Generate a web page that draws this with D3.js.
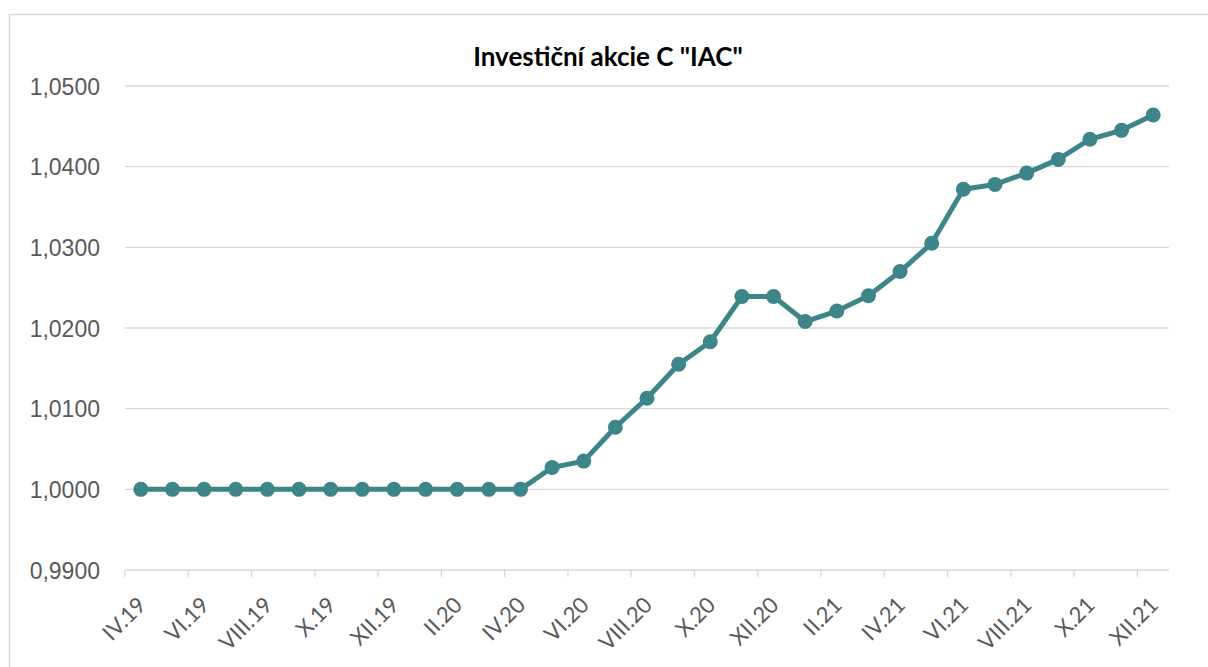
<!DOCTYPE html>
<html>
<head>
<meta charset="utf-8">
<script src="https://cdn.jsdelivr.net/npm/d3@7"></script>
<style>
  body { margin: 0; background: #fff; }
  svg { display: block; font-family: Lato, "Open Sans", sans-serif; }
</style>
</head>
<body>
<div id="chart"></div>
<script>
// chart data
var title = 'Investiční akcie C "IAC"';
var months = ["IV.19", "V.19", "VI.19", "VII.19", "VIII.19", "IX.19", "X.19", "XI.19", "XII.19",
    "I.20", "II.20", "III.20", "IV.20", "V.20", "VI.20", "VII.20", "VIII.20", "IX.20", "X.20", "XI.20", "XII.20",
    "I.21", "II.21", "III.21", "IV.21", "V.21", "VI.21", "VII.21", "VIII.21", "IX.21", "X.21", "XI.21", "XII.21"];
var values = [1.0000, 1.0000, 1.0000, 1.0000, 1.0000, 1.0000, 1.0000, 1.0000, 1.0000,
    1.0000, 1.0000, 1.0000, 1.0000, 1.0027, 1.0035, 1.0077, 1.0113, 1.0155, 1.0183, 1.0239, 1.0239,
    1.0208, 1.0221, 1.0240, 1.0270, 1.0305, 1.0372, 1.0378, 1.0392, 1.0409, 1.0434, 1.0445, 1.0464];
var yTicks = [0.99, 1.00, 1.01, 1.02, 1.03, 1.04, 1.05];

var width = 1208,
    height = 667,
    plotLeft = 125,
    plotRight = 1169,
    plotTop = 86,
    plotBottom = 570,
    lineColor = "#3d8589";

var svg = d3.select("#chart").append("svg")
    .attr("width", width)
    .attr("height", height);

// outer chart frame
svg.append("rect")
    .attr("x", 9.5).attr("y", 14.5)
    .attr("width", 1210).attr("height", 670)
    .attr("fill", "none")
    .attr("stroke", "#d9d9d9")
    .attr("stroke-width", 1.5);

var x = d3.scaleBand().domain(months).range([plotLeft, plotRight]);
var y = d3.scaleLinear().domain([0.99, 1.05]).range([plotBottom, plotTop]);

// horizontal gridlines
svg.append("g").selectAll("line")
    .data(yTicks.slice(1))
    .enter().append("line")
    .attr("x1", plotLeft).attr("x2", plotRight)
    .attr("y1", function(d) { return y(d); })
    .attr("y2", function(d) { return y(d); })
    .attr("stroke", "#d9d9d9")
    .attr("stroke-width", 1.3);

// y axis labels
var fmt = function(d) { return d3.format(".4f")(d).replace(".", ","); };
var yAxis = svg.append("g")
    .attr("transform", "translate(" + plotLeft + ",0)")
    .call(d3.axisLeft(y).tickValues(yTicks).tickFormat(fmt).tickSize(0).tickPadding(25));
yAxis.select(".domain").remove();
yAxis.selectAll("text")
    .attr("fill", "#595959")
    .style("font-size", "23px")
    .attr("dy", "0.35em");

// x axis: baseline + ticks at every second category boundary
svg.append("line")
    .attr("x1", plotLeft).attr("x2", plotRight)
    .attr("y1", plotBottom).attr("y2", plotBottom)
    .attr("stroke", "#d9d9d9").attr("stroke-width", 1.3);

var labelled = months.filter(function(d, i) { return i % 2 === 0; });
svg.append("g").selectAll("line")
    .data(labelled)
    .enter().append("line")
    .attr("x1", function(d) { return x(d); })
    .attr("x2", function(d) { return x(d); })
    .attr("y1", plotBottom).attr("y2", plotBottom + 7)
    .attr("stroke", "#d9d9d9").attr("stroke-width", 1.3);

// rotated month labels, end of each label sits under its category
svg.append("g").selectAll("text")
    .data(labelled)
    .enter().append("text")
    .attr("transform", function(d) {
        return "translate(" + (x(d) + x.bandwidth() / 2 + 1) + "," + (plotBottom + 31) + ") rotate(-45)";
    })
    .attr("text-anchor", "end")
    .attr("dy", "0.35em")
    .attr("fill", "#595959")
    .style("font-size", "22px")
    .text(function(d) { return d; });

// the series
var line = d3.line()
    .x(function(d, i) { return x(months[i]) + x.bandwidth() / 2; })
    .y(function(d) { return y(d); });

svg.append("path")
    .datum(values)
    .attr("d", line)
    .attr("fill", "none")
    .attr("stroke", lineColor)
    .attr("stroke-width", 5)
    .attr("stroke-linejoin", "round");

svg.append("g").selectAll("circle")
    .data(values)
    .enter().append("circle")
    .attr("cx", function(d, i) { return x(months[i]) + x.bandwidth() / 2; })
    .attr("cy", function(d) { return y(d); })
    .attr("r", 7.5)
    .attr("fill", lineColor);

// title
svg.append("text")
    .attr("x", 608).attr("y", 66)
    .attr("text-anchor", "middle")
    .style("font-size", "26px")
    .style("font-weight", "bold")
    .attr("fill", "#000")
    .text(title);
</script>
</body>
</html>
